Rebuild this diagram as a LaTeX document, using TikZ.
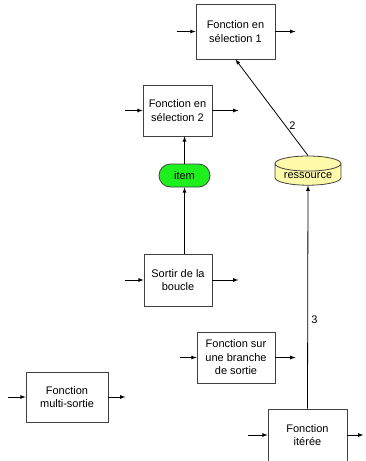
\documentclass[tikz,border=0pt]{standalone}
\usepackage{fontspec}
\setmainfont{Liberation Sans}
\usetikzlibrary{arrows,shapes.geometric,shapes.misc}
\definecolor{itemgreen}{RGB}{30,240,30}
\definecolor{respale}{RGB}{255,250,170}
\tikzset{font={\fontsize{11pt}{13.5pt}\selectfont}}

\begin{document}
\begin{tikzpicture}[x=1pt,y=-1pt,line width=0.8pt,
fonction/.style={draw=black!75,fill=white,align=center,inner sep=0pt},
item/.style={draw=black!75,fill=itemgreen,rounded rectangle,minimum width=51pt,minimum height=23pt,inner sep=0pt},
res/.style={draw=black!75,fill=respale,cylinder,shape border rotate=90,aspect=0.3,minimum width=66pt,minimum height=25pt,inner sep=1pt}
]
\useasboundingbox (0,0) rectangle (365,461);
\clip (0,0) rectangle (365,461);

\node[fonction,minimum width=79pt,minimum height=55pt] (f1) at (235.5,31.5) {Fonction en\\s\'election 1};
\node[fonction,minimum width=69pt,minimum height=51pt] (f2) at (177.5,110.5) {Fonction en\\s\'election 2};
\node[item] (it) at (184.5,175.5) {item};
\node[res] (r) at (308,175.5) {ressource};
\node[fonction,minimum width=68pt,minimum height=52pt] (sortie) at (178,280) {Sortir de la\\boucle};
\node[fonction,minimum width=78pt,minimum height=51pt] (branche) at (236,357.5) {Fonction sur\\une branche\\de sortie};
\node[fonction,minimum width=79pt,minimum height=52pt] (iteree) at (307.5,435) {Fonction\\it\'er\'ee};
\node[fonction,minimum width=82pt,minimum height=50pt] (multi) at (67,397) {Fonction\\multi-sortie};

% entrees / sorties
\foreach \n/\i/\o in {f1/19/20,f2/18/26,sortie/19/26,branche/17/20,iteree/20/16,multi/18/17}{
  \draw[-latex] ([xshift=-\i pt]\n.west) -- (\n.west);
  \draw[-latex] (\n.east) -- ([xshift=\o pt]\n.east);
}

\draw[-latex] (it |- sortie.north) -- (it.south);
\draw[-latex] (it.north) -- (it |- f2.south);
\draw[-latex] (r.north) -- (f1.south) node[right,pos=0.31] {2};
\draw[-latex] (iteree.north) -- (r.south) node[right,pos=0.4] {3};

\end{tikzpicture}
\end{document}
